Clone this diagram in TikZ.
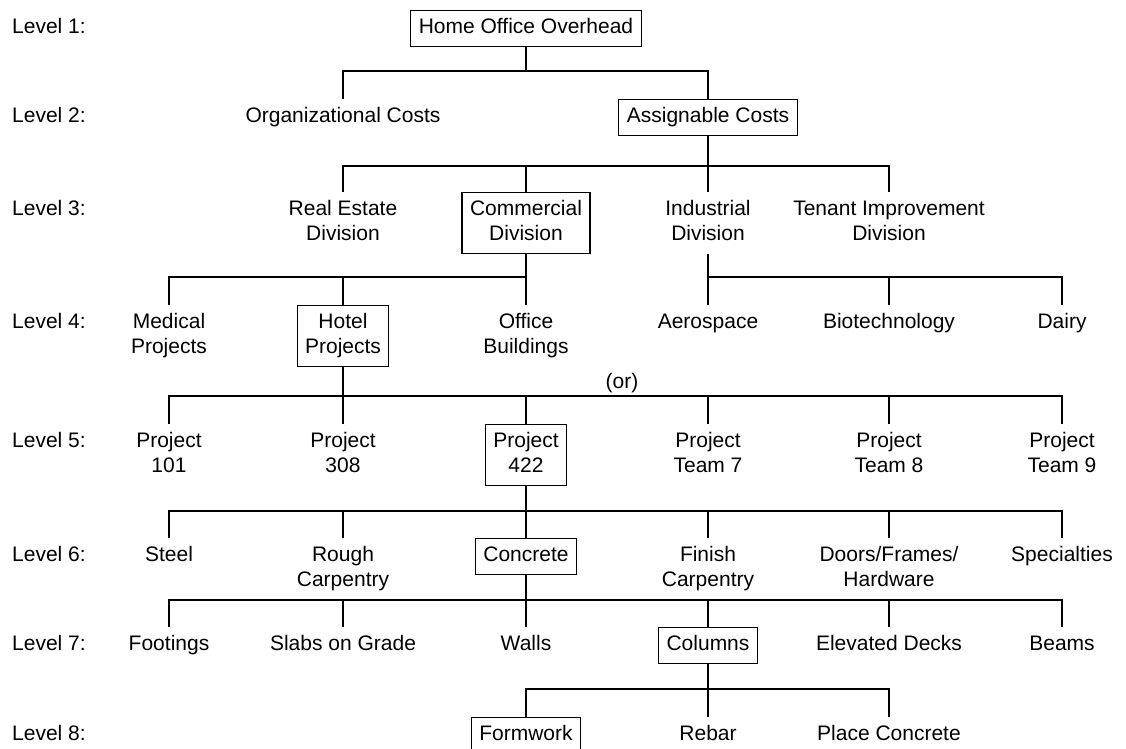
\documentclass[tikz,border=0pt]{standalone}
\usepackage{fontspec}
\setmainfont{Liberation Sans}
% invisible strut: 15pt above the baseline, 5pt below
\newcommand\lnst{\rule[-5pt]{0pt}{20pt}}
\begin{document}
\begin{tikzpicture}[x=1pt,y=-1pt,
  every node/.style={font=\fontsize{21}{25}\selectfont, align=center,
    inner xsep=8pt, inner ysep=8pt, anchor=north},
  boxed/.style={draw, line width=1.1pt},
  lvl/.style={anchor=north west},
  wire/.style={line width=1.1pt}]
\useasboundingbox (0,0) rectangle (1126,748);

% bus heights between levels
\coordinate (b12) at (0,71);
\coordinate (b23) at (0,166);
\coordinate (b34) at (0,277);
\coordinate (b45) at (0,396);
\coordinate (b56) at (0,511);
\coordinate (b67) at (0,600);
\coordinate (b78) at (0,689);

% level labels
\node[lvl] (l1) at (4,10)  {Level 1:\lnst};
\node[lvl] (l2) at (4,99)  {Level 2:\lnst};
\node[lvl] (l3) at (4,192) {Level 3:\lnst};
\node[lvl] (l4) at (4,305) {Level 4:\lnst};
\node[lvl] (l5) at (4,424) {Level 5:\lnst};
\node[lvl] (l6) at (4,538) {Level 6:\lnst};
\node[lvl] (l7) at (4,627) {Level 7:\lnst};
\node[lvl] (l8) at (4,717) {Level 8:\lnst};

% level 1
\node[boxed] (home) at (526,10) {Home Office Overhead\lnst};
% level 2
\node (org) at (343,99) {Organizational Costs\lnst};
\node[boxed] (assign) at (708,99) {Assignable Costs\lnst};
% level 3
\node (real) at (343,192) {Real Estate\lnst\\Division\lnst};
\node[boxed] (comm) at (526,192) {Commercial\lnst\\Division\lnst};
\node (indu) at (708,192) {Industrial\lnst\\Division\lnst};
\node (tenant) at (889,192) {Tenant Improvement\lnst\\Division\lnst};
% level 4
\node (med) at (169,305) {Medical\lnst\\Projects\lnst};
\node[boxed] (hotel) at (343,305) {Hotel\lnst\\Projects\lnst};
\node (office) at (526,305) {Office\lnst\\Buildings\lnst};
\node (aero) at (708,305) {Aerospace\lnst};
\node (bio) at (889,305) {Biotechnology\lnst};
\node (dairy) at (1062,305) {Dairy\lnst};
% level 5
\node[anchor=base] (orlbl) at (622,388) {(or)};
\node (p101) at (169,424) {Project\lnst\\101\lnst};
\node (p308) at (343,424) {Project\lnst\\308\lnst};
\node[boxed] (p422) at (526,424) {Project\lnst\\422\lnst};
\node (t7) at (708,424) {Project\lnst\\Team 7\lnst};
\node (t8) at (889,424) {Project\lnst\\Team 8\lnst};
\node (t9) at (1062,424) {Project\lnst\\Team 9\lnst};
% level 6
\node (steel) at (169,538) {Steel\lnst};
\node (rough) at (343,538) {Rough\lnst\\Carpentry\lnst};
\node[boxed] (conc) at (526,538) {Concrete\lnst};
\node (finish) at (708,538) {Finish\lnst\\Carpentry\lnst};
\node (doors) at (889,538) {Doors/Frames/\lnst\\Hardware\lnst};
\node (spec) at (1062,538) {Specialties\lnst};
% level 7
\node (foot) at (169,627) {Footings\lnst};
\node (slabs) at (343,627) {Slabs on Grade\lnst};
\node (walls) at (526,627) {Walls\lnst};
\node[boxed] (cols) at (708,627) {Columns\lnst};
\node (decks) at (889,627) {Elevated Decks\lnst};
\node (beams) at (1062,627) {Beams\lnst};
% level 8
\node[boxed] (form) at (526,717) {Formwork\lnst};
\node (rebar) at (708,717) {Rebar\lnst};
\node (place) at (889,717) {Place Concrete\lnst};

% connectors 1-2
\draw[wire] (home.south) -- (home.south |- b12);
\draw[wire] (org.north) |- (b12 -| assign.north) -- (assign.north);
% connectors 2-3
\draw[wire] (assign.south) -- (indu.north);
\draw[wire] (real.north) |- (b23 -| tenant.north) -- (tenant.north);
\draw[wire] (comm.north) -- (comm.north |- b23);
% connectors 3-4
\draw[wire] (comm.south) -- (office.north);
\draw[wire] (med.north) |- (b34 -| office.north);
\draw[wire] (hotel.north) -- (hotel.north |- b34);
\draw[wire] (indu.south) -- (aero.north);
\draw[wire] (aero.north |- b34) -| (dairy.north);
\draw[wire] (bio.north) -- (bio.north |- b34);
% connectors 4-5
\draw[wire] (hotel.south) -- (p308.north);
\draw[wire] (p101.north) |- (b45 -| t9.north) -- (t9.north);
\draw[wire] (p422.north) -- (p422.north |- b45);
\draw[wire] (t7.north) -- (t7.north |- b45);
\draw[wire] (t8.north) -- (t8.north |- b45);
% connectors 5-6
\draw[wire] (p422.south) -- (conc.north);
\draw[wire] (steel.north) |- (b56 -| spec.north) -- (spec.north);
\draw[wire] (rough.north) -- (rough.north |- b56);
\draw[wire] (finish.north) -- (finish.north |- b56);
\draw[wire] (doors.north) -- (doors.north |- b56);
% connectors 6-7
\draw[wire] (conc.south) -- (walls.north);
\draw[wire] (foot.north) |- (b67 -| beams.north) -- (beams.north);
\draw[wire] (slabs.north) -- (slabs.north |- b67);
\draw[wire] (cols.north) -- (cols.north |- b67);
\draw[wire] (decks.north) -- (decks.north |- b67);
% connectors 7-8
\draw[wire] (cols.south) -- (rebar.north);
\draw[wire] (form.north) |- (b78 -| place.north) -- (place.north);
\end{tikzpicture}
\end{document}
